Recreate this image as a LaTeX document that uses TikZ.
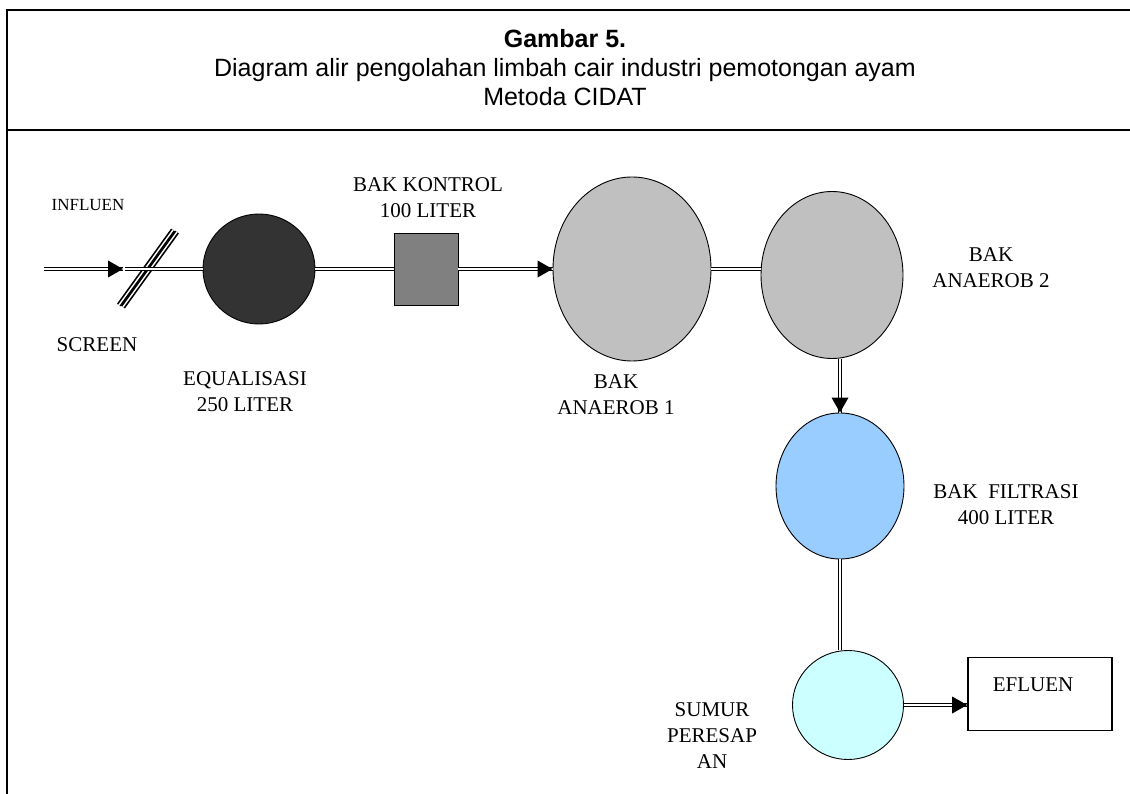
\documentclass[tikz,border=0pt]{standalone}
\usepackage{fontspec}
\setmainfont{Liberation Serif}
\newfontfamily\headfont{Liberation Sans}
\usetikzlibrary{shapes.geometric,decorations.markings,calc}
\definecolor{eqgray}{HTML}{333333}
\definecolor{ctrlgray}{HTML}{808080}
\definecolor{anagray}{HTML}{C0C0C0}
\definecolor{filtblue}{HTML}{99CCFF}
\definecolor{sumurcyan}{HTML}{CCFFFF}
\tikzset{
  tank/.style={ellipse, draw, line width=0.9pt, inner sep=0pt},
  pipe/.style={double, double distance=1.5pt, line width=1.3pt},
  flow/.style={pipe, postaction={decorate, decoration={markings,
      mark=at position 1 with {\fill (0pt,0pt) -- (-15pt,8.5pt) -- (-15pt,-8.5pt) -- cycle;}}}},
  slash/.style={double, double distance=1.4pt, line width=1.7pt},
  lbl/.style={font=\fontsize{21}{26}\selectfont, align=center, inner sep=0pt},
}
\begin{document}
\begin{tikzpicture}[x=1pt, y=-1pt]
\useasboundingbox (0,0) rectangle (1130,794);
% frame and heading
\draw[line width=1.6pt] (1130,10) -- (7,10) -- (7,794);
\draw[line width=1.6pt] (7,130) -- (1130,130);
\node[font=\headfont\fontsize{25}{29}\selectfont, align=center] (title) at (565,68)
  {\textbf{Gambar 5.}\\Diagram alir pengolahan limbah cair industri pemotongan ayam\\Metoda CIDAT};
% units
\node[tank, fill=eqgray, minimum width=112pt, minimum height=110pt] (eq) at (259,269) {};
\node[draw, line width=0.9pt, fill=ctrlgray, minimum width=64pt, minimum height=72pt, inner sep=0pt] (ctrl) at (426,269) {};
\node[tank, fill=anagray, minimum width=158pt, minimum height=184pt] (an1) at (632,269) {};
\node[tank, fill=anagray, minimum width=142pt, minimum height=167pt] (an2) at (832,275) {};
\node[tank, fill=filtblue, minimum width=128pt, minimum height=146pt] (filt) at (840,486) {};
\node[tank, fill=sumurcyan, minimum width=111pt, minimum height=109pt] (sumur) at (848,705) {};
\node[draw, line width=1.6pt, minimum width=144pt, minimum height=73pt, inner sep=0pt] (eff) at (1040,694) {};
\coordinate (inlet) at (44,269);
\coordinate (scrarr) at (123,269);
\coordinate (scrout) at (125,269);
\coordinate (scr) at (147,268);
% screen
\draw[slash] ($(scr)+(-28,37)$) -- ($(scr)+(26,-38)$);
\draw[slash] ($(scr)+(-24,39)$) -- ($(scr)+(30,-36)$);
% pipes
\draw[flow] (inlet) -- (scrarr);
\draw[pipe] (scrout) -- (eq);
\draw[pipe] (eq) -- (ctrl);
\draw[flow] (ctrl) -- (an1);
\draw[pipe] (an1.east) -- (an1.east -| an2.west);
\draw[flow] (filt.north |- an2.south) -- (filt.north);
\draw[pipe] (filt) -- (filt |- sumur.north);
\draw[flow] (sumur.east) -- (sumur.east -| eff.west);
% labels
\node[lbl, font=\fontsize{17}{20}\selectfont] (tinf) at (88,205) {INFLUEN};
\node[lbl] (tscr) at (97,345) {SCREEN};
\node[lbl] (teq) at (245,392) {EQUALISASI\\250 LITER};
\node[lbl] (tctrl) at (428,198) {BAK KONTROL\\100 LITER};
\node[lbl] (tan1) at (616,395) {BAK\\ANAEROB 1};
\node[lbl] (tan2) at (991,268) {BAK\\ANAEROB 2};
\node[lbl] (tfilt) at (1006,505) {BAK~~FILTRASI\\400 LITER};
\node[lbl] (tsumur) at (712,736) {SUMUR\\PERESAP\\AN};
\node[lbl] (teff) at (1033,685) {EFLUEN};
\end{tikzpicture}
\end{document}
